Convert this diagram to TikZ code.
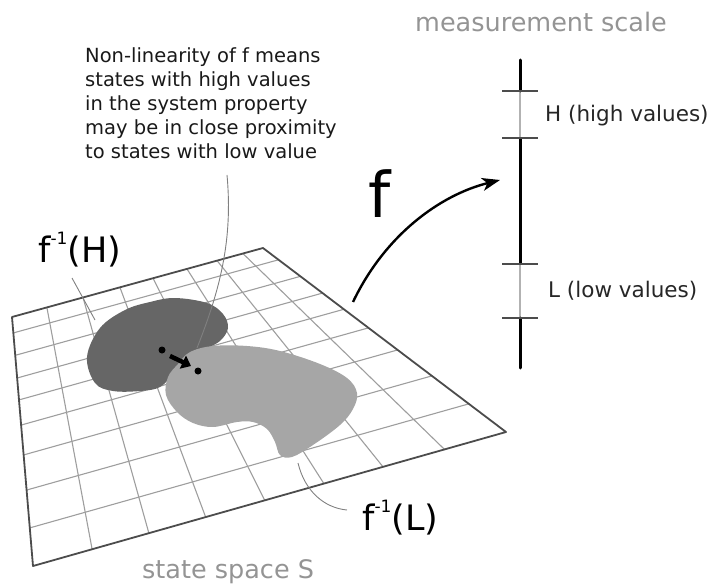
\documentclass[tikz,border=0pt]{standalone}
\usepackage{fontspec}
\setmainfont{DejaVu Sans}
\usetikzlibrary{calc,arrows.meta}
\begin{document}
\begin{tikzpicture}[x=1pt,y=-1pt,
  gridln/.style={draw=black!38, line width=1.1pt},
  rim/.style={draw=black!70, line width=1.8pt, line join=round},
  leader/.style={draw=black!50, line width=0.9pt},
  lbl/.style={inner sep=0pt, anchor=base west},
  graylbl/.style={lbl, text=black!42, font=\fontsize{25.5}{30}\selectfont},
  invlbl/.style={lbl, font=\fontsize{35}{40}\selectfont},
  scalelbl/.style={lbl, text=black!85, font=\fontsize{21.5}{26}\selectfont},
  axisdark/.style={draw=black, line width=3pt},
  axislight/.style={draw=black!30, line width=1.6pt},
  tickln/.style={draw=black!70, line width=1.4pt},
  darkblob/.style={fill=black!60, draw=none},
  lightblob/.style={fill=black!35, draw=none},
  dot/.style={circle, fill=black, inner sep=0pt, minimum size=7pt}
]
\useasboundingbox (0,0) rectangle (715,588);

% state space grid
\coordinate (TL) at (12,317);
\coordinate (TR) at (263,248);
\coordinate (BR) at (506,432);
\coordinate (BL) at (33,566);
\foreach \g in {.064,.154,.245,.333,.434,.554,.695,.847}
  \draw[gridln] ($(TL)!\g!(BL)$) -- ($(TR)!\g!(BR)$);
\foreach \a/\b in {.139/.125,.283/.245,.43/.365,.562/.49,.697/.615,.817/.74,.92/.87}
  \draw[gridln] ($(TL)!\a!(TR)$) -- ($(BL)!\b!(BR)$);
\draw[rim] (TL) -- (TR) -- (BR) -- (BL) -- cycle;

% regions
\fill[darkblob] plot[smooth cycle, tension=0.6] coordinates {
  (87,357) (100,328) (125,310) (150,302) (175,298) (207,303) (223,314)
  (228,328) (220,341) (205,349) (190,357) (175,372) (160,387) (140,391)
  (113,391) (95,383)};
\fill[lightblob] plot[smooth cycle, tension=0.6] coordinates {
  (190,352) (213,346) (247,346) (280,351) (320,364) (347,378) (357,393)
  (353,409) (340,425) (313,445) (292,457) (280,455) (275,442) (267,429)
  (253,422) (237,422) (213,427) (193,423) (177,412) (166,395) (168,377)
  (178,364)};

% labels
\node[lbl, font=\fontsize{19.5}{24}\selectfont, anchor=north west, align=left, text=black!90] (note) at (85,47)
  {Non-linearity of f means\\states with high values\\in the system property\\may be in close proximity\\to states with low value};
\node[graylbl] (mscale) at (415,32) {measurement scale};
\node[graylbl] (sspace) at (142,578) {state space S};
\node[invlbl] (fH) at (38,262) {f\raisebox{0.5em}{\fontsize{17}{17}\selectfont -1}(H)};
\node[invlbl] (fL) at (362,530) {f\raisebox{0.5em}{\fontsize{17}{17}\selectfont -1}(L)};
\node[lbl, font=\fontsize{63}{70}\selectfont] (bigf) at (368,218) {f};
\node[scalelbl] (Hlbl) at (545,122) {H (high values)};
\node[scalelbl] (Llbl) at (548,297) {L (low values)};

% leader lines
\coordinate (noteEnd) at (227,175);
\coordinate (pairPt) at (197,348);
\draw[leader] (noteEnd) .. controls (233,240) and (220,290) .. (pairPt);
\coordinate (fHa) at (72,278);
\coordinate (fHb) at (95,320);
\draw[leader] (fHa) -- (fHb);
\coordinate (fLa) at (298,463);
\coordinate (fLb) at (347,510);
\draw[leader] (fLa) .. controls (305,492) and (325,508) .. (fLb);

% close states
\node[dot] (d1) at (162,350) {};
\node[dot] (d2) at (198,371) {};
\coordinate (sa) at (170,356);
\coordinate (sb) at (191,366);
\draw[line width=4.5pt, -{Triangle[length=9pt,width=14pt]}] (sa) -- (sb);

% measurement scale
\coordinate (s0) at (520,60);
\coordinate (t1) at (520,91);
\coordinate (t2) at (520,138);
\coordinate (t3) at (520,264);
\coordinate (t4) at (520,318);
\coordinate (s5) at (520,368);
\draw[axislight] (t1) -- (t2);
\draw[axislight] (t3) -- (t4);
\draw[axisdark, line cap=round] (s0) -- (t1);
\draw[axisdark] (t2) -- (t3);
\draw[axisdark, line cap=round] (t4) -- (s5);
\foreach \t in {t1,t2,t3,t4}
  \draw[tickln] ([xshift=-18pt]\t) -- ([xshift=18pt]\t);

% mapping f
\coordinate (fs) at (353,302);
\coordinate (fe) at (500,180);
\draw[line width=2.4pt, -{Stealth[length=18pt,width=13pt,inset=5pt]}] (fs) .. controls (385,235) and (440,195) .. (fe);
\end{tikzpicture}
\end{document}
